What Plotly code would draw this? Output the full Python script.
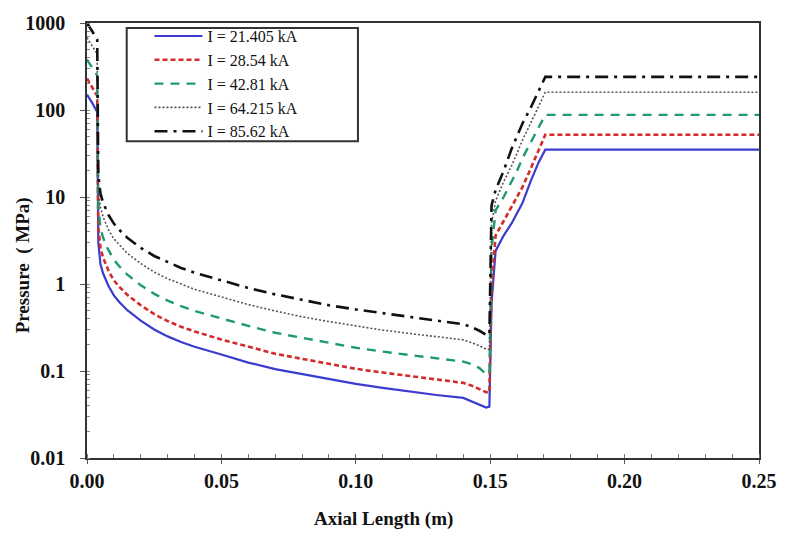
import plotly.graph_objects as go

# ---- data ----
axial_length = [0.0, 0.001, 0.002, 0.003, 0.0038, 0.0042, 0.0045, 0.005, 0.006, 0.007,
                0.008, 0.01, 0.012, 0.015, 0.02, 0.025, 0.03, 0.035, 0.04, 0.05,
                0.06, 0.07, 0.08, 0.09, 0.10, 0.11, 0.12, 0.13, 0.14, 0.143,
                0.146, 0.1485, 0.1497, 0.1505, 0.152, 0.155, 0.158, 0.16, 0.162, 0.165,
                0.168, 0.1705, 0.25]

p_21405 = [150, 135, 120, 105, 95, 3.0, 2.2, 1.7, 1.32, 1.1,
           0.95, 0.74, 0.62, 0.50, 0.38, 0.30, 0.25, 0.215, 0.19, 0.155,
           0.125, 0.105, 0.092, 0.080, 0.071, 0.064, 0.058, 0.053, 0.049, 0.045,
           0.041, 0.038, 0.039, 0.6, 2.4, 3.6, 5.0, 6.5, 8.5, 15,
           25, 35, 35]

p_28540 = [230, 205, 180, 160, 145, 4.5, 3.3, 2.6, 2.0, 1.65,
           1.42, 1.1, 0.93, 0.75, 0.57, 0.45, 0.375, 0.322, 0.285, 0.23,
           0.19, 0.158, 0.138, 0.12, 0.106, 0.096, 0.087, 0.080, 0.073, 0.068,
           0.062, 0.057, 0.057, 0.9, 3.6, 5.3, 7.6, 10, 13, 21,
           35, 52, 52]

p_42810 = [380, 340, 300, 270, 250, 8.0, 5.8, 4.4, 3.4, 2.8,
           2.45, 1.9, 1.6, 1.28, 0.97, 0.77, 0.645, 0.555, 0.49, 0.40,
           0.33, 0.275, 0.24, 0.21, 0.185, 0.167, 0.152, 0.140, 0.128, 0.12,
           0.108, 0.092, 0.092, 2.5, 7.0, 10, 15, 20, 28, 42,
           62, 88, 88]

p_64215 = [680, 610, 540, 480, 440, 12, 9.5, 7.6, 5.9, 4.9,
           4.2, 3.3, 2.8, 2.25, 1.72, 1.37, 1.15, 0.99, 0.87, 0.71,
           0.58, 0.49, 0.42, 0.37, 0.33, 0.295, 0.27, 0.25, 0.228, 0.212,
           0.195, 0.178, 0.178, 5.0, 9.0, 15, 23, 32, 45, 70,
           110, 160, 160]

p_85620 = [1000, 900, 800, 720, 650, 18, 14, 11, 8.6, 7.2,
           6.2, 4.95, 4.2, 3.4, 2.6, 2.1, 1.78, 1.53, 1.35, 1.10,
           0.90, 0.76, 0.66, 0.57, 0.51, 0.46, 0.42, 0.38, 0.345, 0.32,
           0.29, 0.26, 0.26, 8.0, 12, 20, 36, 50, 70, 105,
           165, 240, 240]

series_names = ["I = 21.405 kA", "I = 28.54 kA", "I = 42.81 kA",
                "I = 64.215 kA", "I = 85.62 kA"]
series_values = [p_21405, p_28540, p_42810, p_64215, p_85620]

x_tick_vals = [0.0, 0.05, 0.10, 0.15, 0.20, 0.25]
x_tick_text = ["0.00", "0.05", "0.10", "0.15", "0.20", "0.25"]
y_tick_vals = [0.01, 0.1, 1, 10, 100, 1000]
y_tick_text = ["0.01", "0.1", "1", "10", "100", "1000"]

# ---- styles ----
line_styles = [
    dict(color="#3b3bd0", width=2.2, dash="solid"),
    dict(color="#d42a2a", width=2.6, dash="5px,3px"),
    dict(color="#1f9a6e", width=2.4, dash="9px,7px"),
    dict(color="#555555", width=1.6, dash="2px,2px"),
    dict(color="#111111", width=2.6, dash="13px,6px,3px,6px"),
]

SERIF = "Liberation Serif, Times New Roman, serif"

fig = go.Figure()
for name, vals, st in zip(series_names, series_values, line_styles):
    fig.add_trace(go.Scatter(x=axial_length, y=vals, mode="lines", name=name,
                             line=st))

fig.update_layout(
    width=789, height=536,
    margin=dict(l=87, r=25, t=17, b=78),
    paper_bgcolor="white", plot_bgcolor="white",
    showlegend=True,
    legend=dict(x=0.093, y=1.009, xanchor="left", yanchor="top",
                bgcolor="rgba(0,0,0,0)", borderwidth=0,
                font=dict(family=SERIF, size=16, color="#111111"),
                itemwidth=48),
    font=dict(family=SERIF, color="#111111"),
)

# legend frame (style only)
fig.add_shape(type="rect", xref="paper", yref="paper",
              x0=0.0591, x1=0.4032, y0=0.7279, y1=0.9887,
              line=dict(color="#333333", width=2), fillcolor="white", layer="above")

fig.update_xaxes(
    range=[0, 0.25], tickvals=x_tick_vals, ticktext=x_tick_text,
    showgrid=False, zeroline=False,
    showline=True, linecolor="#333333", linewidth=1.5, mirror=True,
    ticks="outside", ticklen=4, tickcolor="#555555",
    minor=dict(ticks="inside", dtick=0.01, ticklen=4, tickcolor="#777777", showgrid=False),
    tickfont=dict(family=SERIF, size=20, color="#111111", weight="bold"),
)
fig.update_yaxes(
    type="log", range=[-2, 3], tickvals=y_tick_vals, ticktext=y_tick_text,
    showgrid=False, zeroline=False,
    showline=True, linecolor="#333333", linewidth=1.5, mirror=True,
    ticks="outside", ticklen=5, tickcolor="#555555",
    minor=dict(ticks="inside", dtick="D1", ticklen=3, tickcolor="#888888", showgrid=False),
    tickfont=dict(family=SERIF, size=20, color="#111111", weight="bold"),
    ticklabelstandoff=11,
)

fig.add_annotation(text="Axial Length (m)", xref="paper", yref="paper",
                   x=0.4417, y=-0.14, xanchor="center", yanchor="middle",
                   showarrow=False,
                   font=dict(family=SERIF, size=19, color="#111111", weight="bold"))
fig.add_annotation(text="Pressure \u00a0( MPa)", xref="paper", yref="paper",
                   x=-0.096, y=0.444, xanchor="center", yanchor="middle",
                   textangle=-90, showarrow=False,
                   font=dict(family=SERIF, size=19, color="#111111", weight="bold"))

fig.write_html("out.html")
